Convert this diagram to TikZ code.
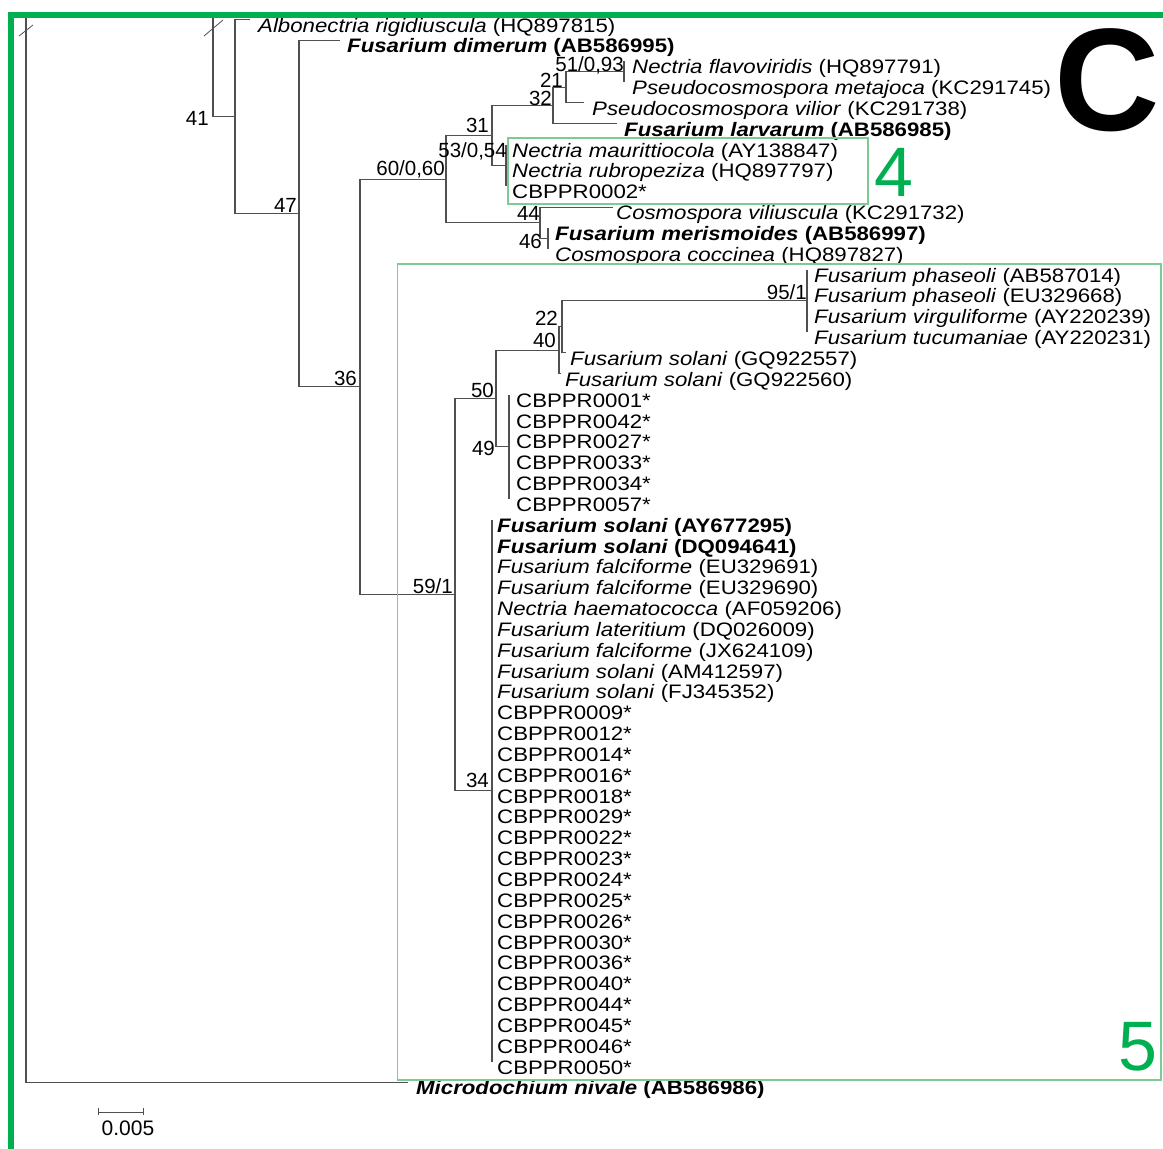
\documentclass[tikz,border=0pt]{standalone}
\usepackage{fontspec}
\setmainfont{Liberation Sans}
\newfontfamily\leaffont{Liberation Sans}[FakeStretch=1.14]
\definecolor{framegreen}{HTML}{00B050}
\definecolor{boxgreen}{HTML}{7CCB95}
\definecolor{branchgrey}{HTML}{505050}
\newcommand{\taxon}[2]{\textit{#1} (#2)}
\newcommand{\btaxon}[2]{\textbf{\textit{#1} (#2)}}

\begin{document}
\begin{tikzpicture}[x=1pt,y=-1pt,
  branch/.style={draw=branchgrey,line width=1.1pt},
  leaf/.style={anchor=base west,inner sep=0pt,font=\leaffont\fontsize{19.5}{21}\selectfont},
  support/.style={anchor=base east,inner sep=0pt,font=\fontsize{20.5}{22}\selectfont},
  cladebox/.style={draw=boxgreen,line width=1.2pt},
  cladenum/.style={text=framegreen,inner sep=0pt,font=\fontsize{70}{70}\selectfont}]
\useasboundingbox (0,0) rectangle (1163,1149);
\coordinate (rtop) at (26,14);
\coordinate (ctop) at (213,14);
\coordinate (n41) at (235,116.6);
\coordinate (n47) at (299,213.6);
\coordinate (n36) at (360,386.9);
\coordinate (n60) at (446,179.1);
\coordinate (n31) at (492,135.4);
\coordinate (n32) at (553,105.5);
\coordinate (n21) at (566,87.3);
\coordinate (n51) at (624,71.6);
\coordinate (n53) at (506,165.4);
\coordinate (n44) at (540,222.7);
\coordinate (n46) at (548,238.3);
\coordinate (n59) at (455,594.6);
\coordinate (n50) at (496,398.5);
\coordinate (n40) at (559,350.3);
\coordinate (n22) at (562,326.9);
\coordinate (n95) at (807,300.9);
\coordinate (n49) at (509,446.7);
\coordinate (n34) at (492,790.6);
\coordinate (t0) at (250,19.5);
\coordinate (t1) at (340,40.3);
\coordinate (t2) at (624,61.2);
\coordinate (t3) at (624,82.0);
\coordinate (t4) at (584,102.9);
\coordinate (t5) at (617,123.7);
\coordinate (t6) at (506,144.5);
\coordinate (t8) at (506,186.2);
\coordinate (t9) at (613,207.1);
\coordinate (t10) at (548,227.9);
\coordinate (t11) at (548,248.7);
\coordinate (t12) at (807,269.6);
\coordinate (t15) at (807,332.1);
\coordinate (t16) at (566,352.9);
\coordinate (t17) at (561,373.8);
\coordinate (t18) at (509,394.6);
\coordinate (t23) at (509,498.8);
\coordinate (t24) at (492,519.7);
\coordinate (t50) at (492,1061.5);
\coordinate (t51) at (408,1082.3);

\draw[branch] (rtop) |- (t51);
\draw[branch] (ctop) |- (n41);
\draw[branch] (n41) |- (t0);
\draw[branch] (n41) |- (n47);
\draw[branch] (n47) |- (t1);
\draw[branch] (n47) |- (n36);
\draw[branch] (n36) |- (n60);
\draw[branch] (n36) |- (n59);
\draw[branch] (n60) |- (n31);
\draw[branch] (n60) |- (n44);
\draw[branch] (n31) |- (n32);
\draw[branch] (n31) |- (n53);
\draw[branch] (n32) |- (n21);
\draw[branch] (n32) |- (t5);
\draw[branch] (n21) |- (n51);
\draw[branch] (n21) |- (t4);
\draw[branch] (n51) |- (t2);
\draw[branch] (n51) |- (t3);
\draw[branch] (n53) |- (t6);
\draw[branch] (n53) |- (t8);
\draw[branch] (n44) |- (t9);
\draw[branch] (n44) |- (n46);
\draw[branch] (n46) |- (t10);
\draw[branch] (n46) |- (t11);
\draw[branch] (n59) |- (n50);
\draw[branch] (n59) |- (n34);
\draw[branch] (n50) |- (n40);
\draw[branch] (n50) |- (n49);
\draw[branch] (n40) |- (n22);
\draw[branch] (n40) |- (t17);
\draw[branch] (n22) |- (n95);
\draw[branch] (n22) |- (t16);
\draw[branch] (n95) |- (t12);
\draw[branch] (n95) |- (t15);
\draw[branch] (n49) |- (t18);
\draw[branch] (n49) |- (t23);
\draw[branch] (n34) |- (t24);
\draw[branch] (n34) |- (t50);
\draw[branchgrey,line width=0.8pt] (19,36) -- (33,25);
\draw[branchgrey,line width=0.8pt] (204,36) -- (223,20);

\node[support] (s41) at (209,125.5) {41};
\node[support] (s47) at (297,212.5) {47};
\node[support] (s36) at (357,385) {36};
\node[support] (s60) at (445,175.5) {60/0,60};
\node[support] (s31) at (489,132.5) {31};
\node[support] (s53) at (507,157.5) {53/0,54};
\node[support] (s32) at (552,105) {32};
\node[support] (s21) at (563,87) {21};
\node[support] (s51) at (624,71) {51/0,93};
\node[support] (s44) at (540,220) {44};
\node[support] (s46) at (542,248) {46};
\node[support] (s95) at (807,299) {95/1};
\node[support] (s22) at (558,325) {22};
\node[support] (s40) at (556,347.5) {40};
\node[support] (s50) at (494,397) {50};
\node[support] (s49) at (495,455) {49};
\node[support] (s59) at (453,593) {59/1};
\node[support] (s34) at (489,787) {34};

\node[leaf] (l0) at (258,32.0) {\taxon{Albonectria rigidiuscula}{HQ897815}};
\node[leaf] (l1) at (347,52.8) {\btaxon{Fusarium dimerum}{AB586995}};
\node[leaf] (l2) at (632,73.7) {\taxon{Nectria flavoviridis}{HQ897791}};
\node[leaf] (l3) at (632,94.5) {\taxon{Pseudocosmospora metajoca}{KC291745}};
\node[leaf] (l4) at (592,115.4) {\taxon{Pseudocosmospora vilior}{KC291738}};
\node[leaf] (l5) at (624,136.2) {\btaxon{Fusarium larvarum}{AB586985}};
\node[leaf] (l6) at (512,157.0) {\taxon{Nectria maurittiocola}{AY138847}};
\node[leaf] (l7) at (512,177.9) {\taxon{Nectria rubropeziza}{HQ897797}};
\node[leaf] (l8) at (512,198.7) {CBPPR0002*};
\node[leaf] (l9) at (616,219.6) {\taxon{Cosmospora viliuscula}{KC291732}};
\node[leaf] (l10) at (555,240.4) {\btaxon{Fusarium merismoides}{AB586997}};
\node[leaf] (l11) at (555,261.2) {\taxon{Cosmospora coccinea}{HQ897827}};
\node[leaf] (l12) at (814,282.1) {\taxon{Fusarium phaseoli}{AB587014}};
\node[leaf] (l13) at (814,302.9) {\taxon{Fusarium phaseoli}{EU329668}};
\node[leaf] (l14) at (814,323.8) {\taxon{Fusarium virguliforme}{AY220239}};
\node[leaf] (l15) at (814,344.6) {\taxon{Fusarium tucumaniae}{AY220231}};
\node[leaf] (l16) at (570,365.4) {\taxon{Fusarium solani}{GQ922557}};
\node[leaf] (l17) at (565,386.3) {\taxon{Fusarium solani}{GQ922560}};
\node[leaf] (l18) at (516,407.1) {CBPPR0001*};
\node[leaf] (l19) at (516,428.0) {CBPPR0042*};
\node[leaf] (l20) at (516,448.8) {CBPPR0027*};
\node[leaf] (l21) at (516,469.6) {CBPPR0033*};
\node[leaf] (l22) at (516,490.5) {CBPPR0034*};
\node[leaf] (l23) at (516,511.3) {CBPPR0057*};
\node[leaf] (l24) at (497,532.2) {\btaxon{Fusarium solani}{AY677295}};
\node[leaf] (l25) at (497,553.0) {\btaxon{Fusarium solani}{DQ094641}};
\node[leaf] (l26) at (497,573.8) {\taxon{Fusarium falciforme}{EU329691}};
\node[leaf] (l27) at (497,594.7) {\taxon{Fusarium falciforme}{EU329690}};
\node[leaf] (l28) at (497,615.5) {\taxon{Nectria haematococca}{AF059206}};
\node[leaf] (l29) at (497,636.4) {\taxon{Fusarium lateritium}{DQ026009}};
\node[leaf] (l30) at (497,657.2) {\taxon{Fusarium falciforme}{JX624109}};
\node[leaf] (l31) at (497,678.0) {\taxon{Fusarium solani}{AM412597}};
\node[leaf] (l32) at (497,698.9) {\taxon{Fusarium solani}{FJ345352}};
\node[leaf] (l33) at (497,719.7) {CBPPR0009*};
\node[leaf] (l34) at (497,740.6) {CBPPR0012*};
\node[leaf] (l35) at (497,761.4) {CBPPR0014*};
\node[leaf] (l36) at (497,782.2) {CBPPR0016*};
\node[leaf] (l37) at (497,803.1) {CBPPR0018*};
\node[leaf] (l38) at (497,823.9) {CBPPR0029*};
\node[leaf] (l39) at (497,844.8) {CBPPR0022*};
\node[leaf] (l40) at (497,865.6) {CBPPR0023*};
\node[leaf] (l41) at (497,886.4) {CBPPR0024*};
\node[leaf] (l42) at (497,907.3) {CBPPR0025*};
\node[leaf] (l43) at (497,928.1) {CBPPR0026*};
\node[leaf] (l44) at (497,949.0) {CBPPR0030*};
\node[leaf] (l45) at (497,969.8) {CBPPR0036*};
\node[leaf] (l46) at (497,990.6) {CBPPR0040*};
\node[leaf] (l47) at (497,1011.5) {CBPPR0044*};
\node[leaf] (l48) at (497,1032.3) {CBPPR0045*};
\node[leaf] (l49) at (497,1053.2) {CBPPR0046*};
\node[leaf] (l50) at (497,1074.0) {CBPPR0050*};
\node[leaf] (l51) at (416,1094.8) {\btaxon{Microdochium nivale}{AB586986}};

\draw[cladebox] (508,138) rectangle (868,204);
\node[cladenum] (c4) at (894,172) {4};
\draw[cladebox] (397.5,264) rectangle (1161,1080);
\node[cladenum] (c5) at (1138,1047) {5};

\coordinate (sb1) at (98,1112);
\coordinate (sb2) at (143,1112);
\draw[branch,line width=0.9pt] (sb1) -- (sb2);
\draw[branch,line width=0.9pt] (98,1108) -- (98,1115);
\draw[branch,line width=0.9pt] (143,1108) -- (143,1115);
\node[font=\fontsize{21}{22}\selectfont,inner sep=0pt] (scale) at (128,1128) {0.005};

\node[inner sep=0pt,font=\bfseries\fontsize{146}{146}\selectfont] (panel) at (1107,80) {C};

\fill[framegreen] (8,12) rectangle (1163,17.5);
\fill[framegreen] (8,12) rectangle (14,1149);
\end{tikzpicture}
\end{document}
